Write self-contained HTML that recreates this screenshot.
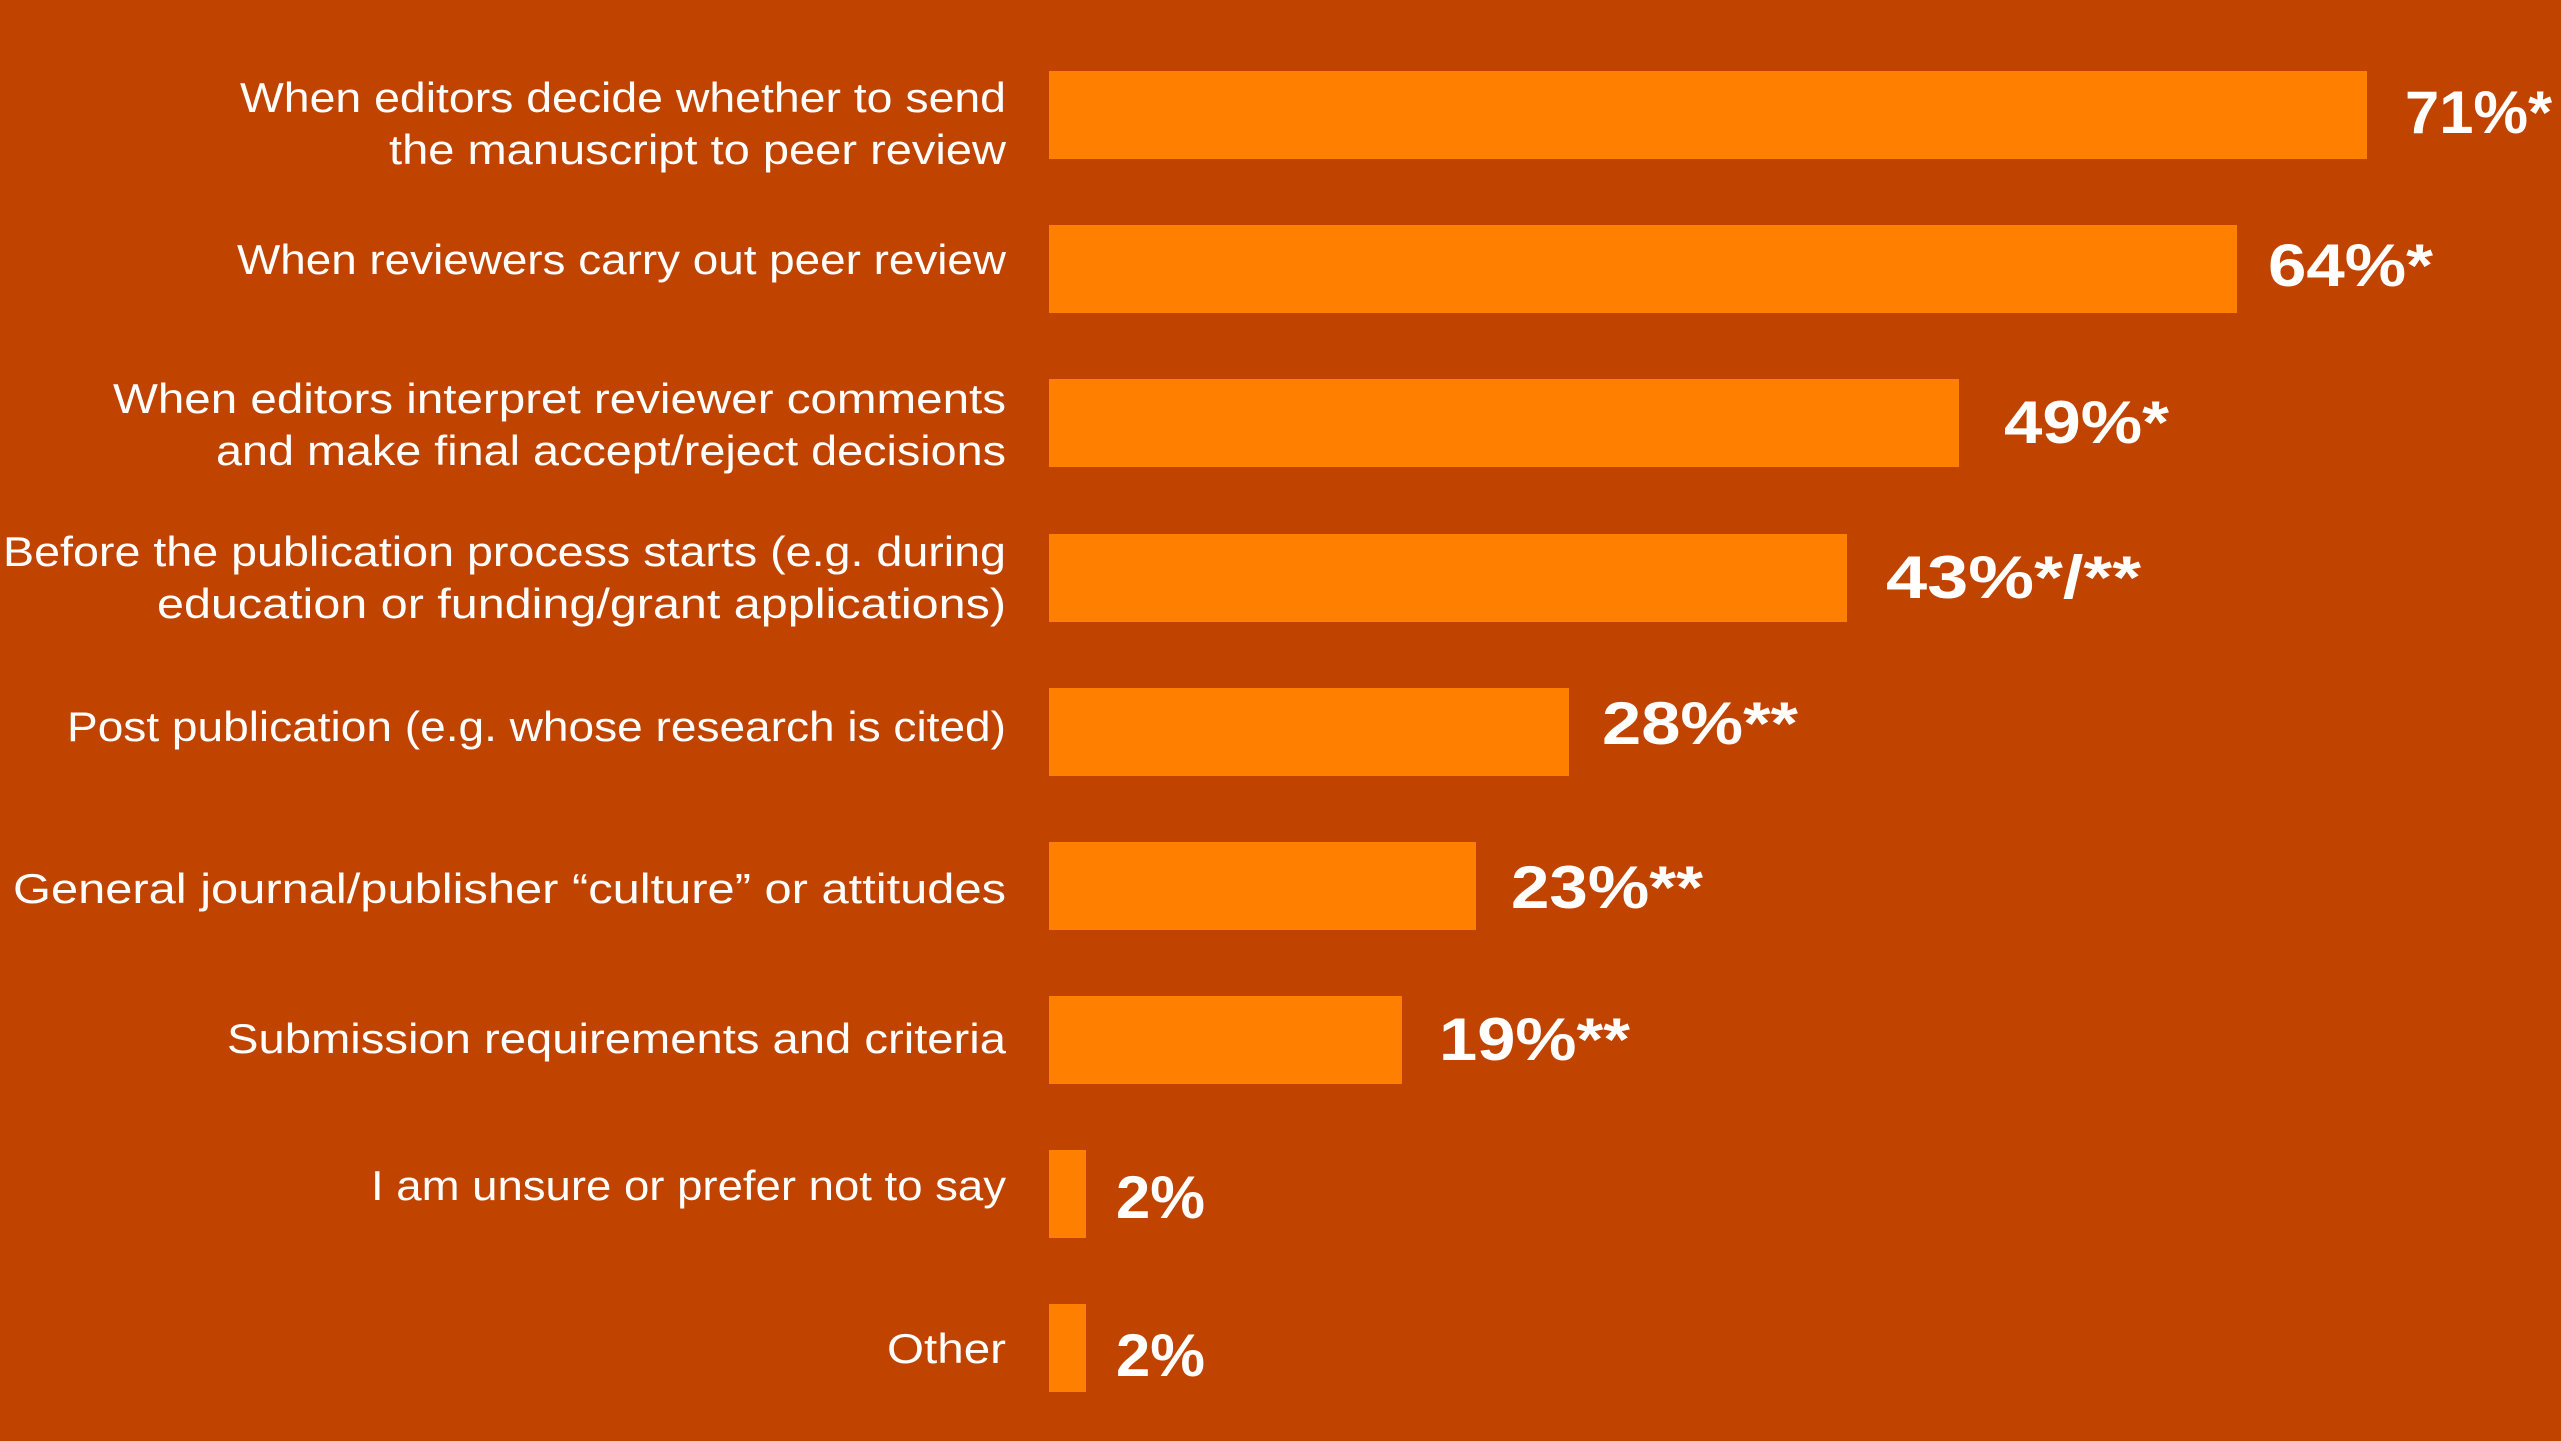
<!DOCTYPE html>
<html><head><meta charset="utf-8"><style>
html,body{margin:0;padding:0;background:#C04400;}
svg{display:block;}
text{font-family:"Liberation Sans",sans-serif;fill:#fff;}
.l{font-size:42px;}
.v{font-size:60px;font-weight:bold;}
</style></head><body>
<svg width="2561" height="1441" viewBox="0 0 2561 1441">
<rect width="2561" height="1441" fill="#C04400"/>
<g fill="#FF8000">
<rect x="1049" y="71" width="1318" height="88"/>
<rect x="1049" y="225" width="1188" height="88"/>
<rect x="1049" y="379" width="910" height="88"/>
<rect x="1049" y="534" width="798" height="88"/>
<rect x="1049" y="688" width="520" height="88"/>
<rect x="1049" y="842" width="427" height="88"/>
<rect x="1049" y="996" width="353" height="88"/>
<rect x="1049" y="1150" width="37" height="88"/>
<rect x="1049" y="1304" width="37" height="88"/>
</g>
<text class="l" x="240" y="112" textLength="766" lengthAdjust="spacingAndGlyphs">When editors decide whether to send</text>
<text class="l" x="389" y="164" textLength="617" lengthAdjust="spacingAndGlyphs">the manuscript to peer review</text>
<text class="l" x="237" y="274" textLength="769" lengthAdjust="spacingAndGlyphs">When reviewers carry out peer review</text>
<text class="l" x="113" y="413" textLength="893" lengthAdjust="spacingAndGlyphs">When editors interpret reviewer comments</text>
<text class="l" x="216" y="465" textLength="790" lengthAdjust="spacingAndGlyphs">and make final accept/reject decisions</text>
<text class="l" x="3" y="566" textLength="1003" lengthAdjust="spacingAndGlyphs">Before the publication process starts (e.g. during</text>
<text class="l" x="157" y="618" textLength="849" lengthAdjust="spacingAndGlyphs">education or funding/grant applications)</text>
<text class="l" x="67" y="741" textLength="939" lengthAdjust="spacingAndGlyphs">Post publication (e.g. whose research is cited)</text>
<text class="l" x="13" y="903" textLength="993" lengthAdjust="spacingAndGlyphs">General journal/publisher “culture” or attitudes</text>
<text class="l" x="227" y="1053" textLength="779" lengthAdjust="spacingAndGlyphs">Submission requirements and criteria</text>
<text class="l" x="371" y="1200" textLength="635" lengthAdjust="spacingAndGlyphs">I am unsure or prefer not to say</text>
<text class="l" x="887" y="1363" textLength="119" lengthAdjust="spacingAndGlyphs">Other</text>
<text class="v" x="2405" y="133" textLength="147" lengthAdjust="spacingAndGlyphs">71%*</text>
<text class="v" x="2268" y="286" textLength="165" lengthAdjust="spacingAndGlyphs">64%*</text>
<text class="v" x="2004" y="443" textLength="165" lengthAdjust="spacingAndGlyphs">49%*</text>
<text class="v" x="1886" y="598" textLength="255" lengthAdjust="spacingAndGlyphs">43%*/**</text>
<text class="v" x="1602" y="744" textLength="196" lengthAdjust="spacingAndGlyphs">28%**</text>
<text class="v" x="1511" y="908" textLength="192" lengthAdjust="spacingAndGlyphs">23%**</text>
<text class="v" x="1439" y="1060" textLength="191" lengthAdjust="spacingAndGlyphs">19%**</text>
<text class="v" x="1116" y="1218" textLength="89" lengthAdjust="spacingAndGlyphs">2%</text>
<text class="v" x="1116" y="1376" textLength="89" lengthAdjust="spacingAndGlyphs">2%</text>
</svg>
</body></html>
